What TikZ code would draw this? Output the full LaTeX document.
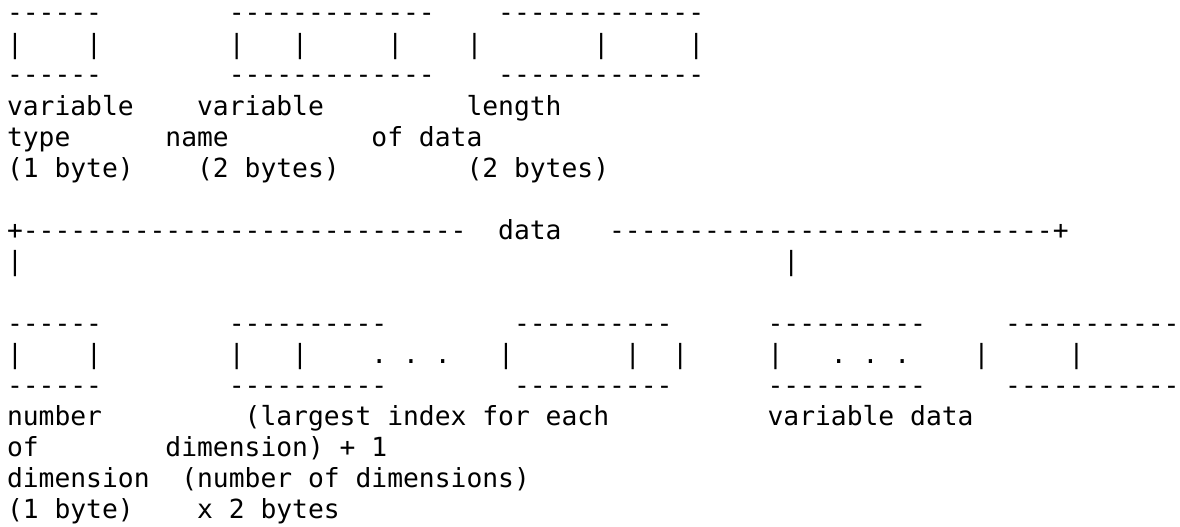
\documentclass[tikz,border=0pt]{standalone}
\usepackage{fontspec}
\setmonofont{DejaVu Sans Mono}
\tikzset{
  txt/.style={anchor=base west, inner sep=0pt, outer sep=0pt, font=\ttfamily\fontsize{26.32pt}{31pt}\selectfont, text=black}
}
\newcommand\cw{15.845}
\begin{document}
\begin{tikzpicture}[x=1pt,y=1pt]
\useasboundingbox[fill=white] (0,0) rectangle (1180,-527);
% line 1
\node[txt] (t1a) at ({7+0*\cw},-22) {------};
\node[txt] (t1b) at ({7+14*\cw},-22) {-------------};
\node[txt] (t1c) at ({7+31*\cw},-22) {-------------};
% line 2
\foreach \c [count=\i] in {0,5,14,18,24,29,37,43}
  \node[txt] (t2p\i) at ({7+\c*\cw},-53) {|};
% line 3
\node[txt] (t3a) at ({7+0*\cw},-84) {------};
\node[txt] (t3b) at ({7+14*\cw},-84) {-------------};
\node[txt] (t3c) at ({7+31*\cw},-84) {-------------};
% line 4-6
\node[txt] (t4a) at ({7+0*\cw},-115) {variable};
\node[txt] (t4b) at ({7+12*\cw},-115) {variable};
\node[txt] (t4c) at ({7+29*\cw},-115) {length};
\node[txt] (t5a) at ({7+0*\cw},-146) {type};
\node[txt] (t5b) at ({7+10*\cw},-146) {name};
\node[txt] (t5c) at ({7+23*\cw},-146) {of data};
\node[txt] (t6a) at ({7+0*\cw},-177) {(1 byte)};
\node[txt] (t6b) at ({7+12*\cw},-177) {(2 bytes)};
\node[txt] (t6c) at ({7+29*\cw},-177) {(2 bytes)};
% line 8-9
\node[txt] (t8a) at ({7+0*\cw},-239) {+----------------------------};
\node[txt] (t8b) at ({7+31*\cw},-239) {data};
\node[txt] (t8c) at ({7+38*\cw},-239) {----------------------------+};
\node[txt] (t9a) at ({7+0*\cw},-270) {|};
\node[txt] (t9b) at ({7+49*\cw},-270) {|};
% line 11
\node[txt] (t11a) at ({7+0*\cw},-332) {------};
\node[txt] (t11b) at ({7+14*\cw},-332) {----------};
\node[txt] (t11c) at ({7+32*\cw},-332) {----------};
\node[txt] (t11d) at ({7+48*\cw},-332) {----------};
\node[txt] (t11e) at ({7+63*\cw},-332) {-----------};
% line 12
\foreach \c [count=\i] in {0,5,14,18,31,39,42,48,61,67}
  \node[txt] (t12p\i) at ({7+\c*\cw},-363) {|};
\foreach \c [count=\i] in {23,25,27,52,54,56}
  \node[txt] (t12d\i) at ({7+\c*\cw},-363) {.};
% line 13
\node[txt] (t13a) at ({7+0*\cw},-394) {------};
\node[txt] (t13b) at ({7+14*\cw},-394) {----------};
\node[txt] (t13c) at ({7+32*\cw},-394) {----------};
\node[txt] (t13d) at ({7+48*\cw},-394) {----------};
\node[txt] (t13e) at ({7+63*\cw},-394) {-----------};
% lines 14-17
\node[txt] (t14a) at ({7+0*\cw},-425) {number};
\node[txt] (t14b) at ({7+15*\cw},-425) {(largest index for each};
\node[txt] (t14c) at ({7+48*\cw},-425) {variable data};
\node[txt] (t15a) at ({7+0*\cw},-456) {of};
\node[txt] (t15b) at ({7+10*\cw},-456) {dimension) + 1};
\node[txt] (t16a) at ({7+0*\cw},-487) {dimension};
\node[txt] (t16b) at ({7+11*\cw},-487) {(number of dimensions)};
\node[txt] (t17a) at ({7+0*\cw},-518) {(1 byte)};
\node[txt] (t17b) at ({7+12*\cw},-518) {x 2 bytes};
\end{tikzpicture}
\end{document}
